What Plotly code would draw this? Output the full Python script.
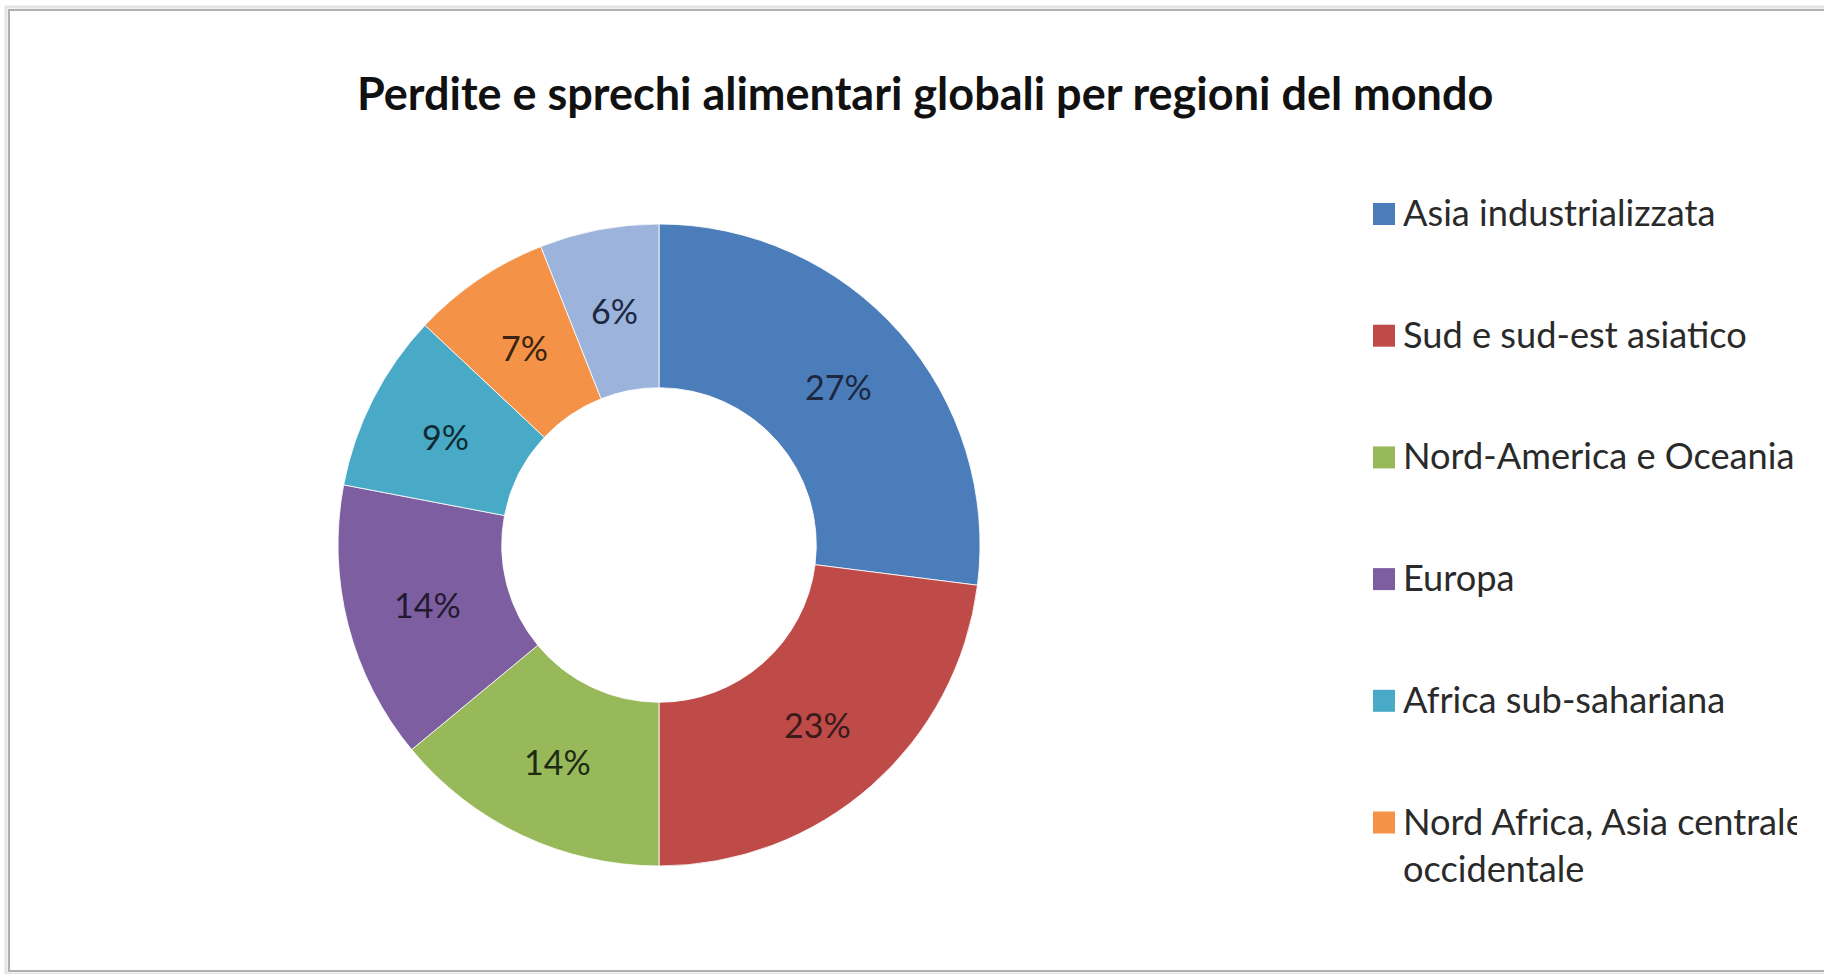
import math
import plotly.graph_objects as go

W, H = 1824, 974

# ---- data ----
labels = [
    "Asia industrializzata",
    "Sud e sud-est asiatico",
    "Nord-America e Oceania",
    "Europa",
    "Africa sub-sahariana",
    "Nord Africa, Asia centrale e occidentale",
    "America Latina",
]
legend_labels = [
    "Asia industrializzata",
    "Sud e sud-est asiatico",
    "Nord-America e Oceania",
    "Europa",
    "Africa sub-sahariana",
    "Nord Africa, Asia centrale e<br>occidentale",
    "America Latina",
]
values = [27, 23, 14, 14, 9, 7, 6]
title_text = "Perdite e sprechi alimentari globali per regioni del mondo"

# ---- styles ----
colors = ["#4A7DBA", "#BE4B48", "#98B95A", "#7D5FA1", "#48AAC6", "#F49247", "#9CB3DC"]
label_colors = ["#1c2740", "#3a1a1a", "#1e2a14", "#221a30", "#0f2a33", "#3a2410", "#1c2740"]
FONT = "Lato"
HOLE = 0.49

fig = go.Figure()

# donut
cx, cy, R = 659, 545, 321
fig.add_trace(go.Pie(
    labels=labels,
    values=values,
    sort=False,
    direction="clockwise",
    rotation=0,
    hole=HOLE,
    marker=dict(colors=colors, line=dict(color="rgba(255,255,255,0.8)", width=1)),
    textinfo="none",
    domain=dict(x=[(cx - R) / W, (cx + R) / W], y=[1 - (cy + R) / H, 1 - (cy - R) / H]),
    showlegend=False,
    hoverinfo="label+percent",
))

# data labels at the middle of the ring (Excel style), derived from the values
total = sum(values)
r_mid = R * (1 + HOLE) / 2
cum = 0
for v, col in zip(values, label_colors):
    mid = (cum + v / 2) / total * 2 * math.pi
    cum += v
    px = cx + r_mid * math.sin(mid)
    py = cy - r_mid * math.cos(mid)
    fig.add_annotation(
        x=px / W, y=1 - py / H, xref="paper", yref="paper",
        text=f"{round(100 * v / total)}%", showarrow=False,
        xanchor="center", yanchor="middle",
        font=dict(family=FONT, size=34, color=col),
    )

# manual legend in a pixel-based hidden subplot (clipped at the frame's right edge)
x_clip = 1797
lg_x_marker, lg_x_text = 1384, 1403
lg_y0, lg_gap, line_h = 214, 121.7, 47
marker_y, text_y = [], []
y = lg_y0
for lab in legend_labels:
    n = lab.count("<br>") + 1
    marker_y.append(y)
    text_y.append(y + 3 + (n - 1) * line_h / 2)
    y += lg_gap + (n - 1) * line_h

fig.add_trace(go.Scatter(
    x=[lg_x_marker] * len(legend_labels), y=marker_y,
    mode="markers",
    marker=dict(symbol="square", size=22, color=colors, line=dict(width=0)),
    showlegend=False, hoverinfo="skip", cliponaxis=True,
))
fig.add_trace(go.Scatter(
    x=[lg_x_text] * len(legend_labels), y=text_y,
    mode="text", text=legend_labels, textposition="middle right",
    textfont=dict(family=FONT, size=36.2, color="#2a2a2a"),
    showlegend=False, hoverinfo="skip", cliponaxis=True,
))

fig.update_xaxes(domain=[0, x_clip / W], range=[0, x_clip], visible=False, fixedrange=True)
fig.update_yaxes(domain=[0, 1], range=[H, 0], visible=False, fixedrange=True)

# title
fig.add_annotation(
    x=925 / W, y=1 - 93 / H, xref="paper", yref="paper",
    text="<b>" + title_text + "</b>", showarrow=False,
    xanchor="center", yanchor="middle",
    font=dict(family=FONT, size=45, color="#111111"),
)

# chart frame (left/top/bottom visible, right beyond the page)
fig.add_shape(type="rect", xref="paper", yref="paper",
              x0=6 / W, x1=1.05, y0=1 - 974 / H, y1=1 - 7 / H,
              line=dict(color="#e4e4e4", width=3), fillcolor="rgba(0,0,0,0)")
fig.add_shape(type="rect", xref="paper", yref="paper",
              x0=9 / W, x1=1.05, y0=1 - 971 / H, y1=1 - 10 / H,
              line=dict(color="#b0b0b0", width=2), fillcolor="rgba(0,0,0,0)")

fig.update_layout(
    width=W, height=H,
    margin=dict(l=0, r=0, t=0, b=0),
    paper_bgcolor="white", plot_bgcolor="rgba(0,0,0,0)",
    showlegend=False,
)

fig.write_html("out.html")
